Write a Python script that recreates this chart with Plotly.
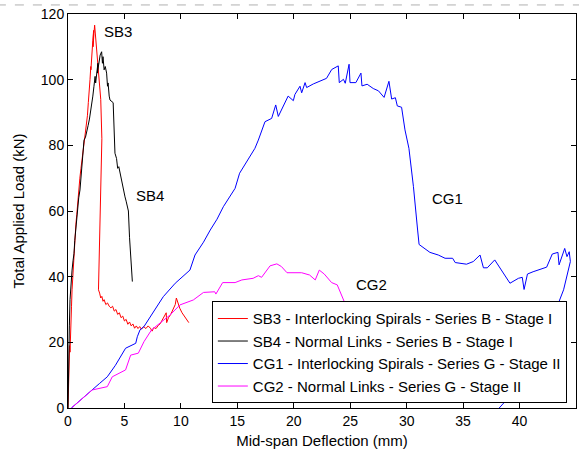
import plotly.graph_objects as go

# ---- data (mm, kN) ----
sb3_x = [0, 0.04, 0.07, 0.1, 0.14, 0.18, 0.22, 0.27, 0.31, 0.36, 0.42, 0.48, 0.55, 0.62, 0.7, 0.78,
         0.86, 0.95, 1.05, 1.15, 1.25, 1.35, 1.45, 1.55, 1.65, 1.72, 1.8, 1.88, 1.95, 2.02, 2.08,
         2.03, 2.12, 2.2, 2.27, 2.22, 2.3, 2.36, 2.6, 2.9, 3.0, 2.85, 2.66,
         2.7, 2.8, 2.9, 3.0, 3.1, 3.2, 3.35, 3.5, 3.65, 3.8, 3.95, 4.1, 4.25, 4.4, 4.55, 4.7, 4.85,
         5.0, 5.15, 5.3, 5.45, 5.6, 5.75, 5.9, 6.05, 6.2, 6.35, 6.5, 6.7, 6.9, 7.1, 7.3, 7.45, 7.6,
         7.8, 8.0, 8.15, 8.3, 8.45, 8.6, 8.7, 8.74, 8.9, 9.1, 9.3, 9.5, 9.6, 9.7, 9.8, 9.9, 10.1,
         10.3, 10.5, 10.7]
sb3_y = [0, 6, 13, 10, 19, 17, 25, 23, 31, 36, 40, 43, 47, 51, 56, 59,
         63, 67, 70, 73, 76, 78, 81, 83, 86, 89, 93, 96, 100, 104, 108,
         103, 109, 112, 115, 110, 114, 116.6, 106, 94, 82, 63, 38,
         36, 35, 33.5, 34, 32.5, 33, 31.5, 32, 31, 30.5, 31, 29.5, 30, 28.5, 29, 27.5, 28,
         26.5, 27, 25.5, 26.2, 25, 25.6, 24.3, 25, 24.2, 24.8, 24, 24.8, 24.2, 25, 24.3, 23.4, 24.5,
         24.2, 25.2, 25.6, 26.5, 27.5, 28.3, 29, 26, 27.5, 28.5, 30, 31.5, 33.5, 32.5, 31, 30.4, 29,
         28, 27, 26]

sb4_x = [0, 0.03, 0.08, 0.12, 0.18, 0.24, 0.29, 0.36, 0.45, 0.53, 0.6, 0.7, 0.83, 0.95, 1.06, 1.15,
         1.21, 1.3, 1.42, 1.55, 1.65, 1.78, 1.9, 2.0, 2.1, 2.2, 2.3, 2.4, 2.45, 2.55, 2.65, 2.6,
         2.75, 2.85, 2.98, 3.05, 3.1, 3.2, 3.3, 3.42, 3.5, 3.55, 3.65, 3.72, 4.0, 4.05, 4.1, 4.16,
         4.3, 4.4, 4.5, 4.6, 4.75, 4.85, 4.95, 5.05, 5.15, 5.25, 5.35, 5.45, 5.55, 5.7]
sb4_y = [0, 9, 18, 25, 33, 37, 39, 42, 45, 47, 51, 55, 60.3, 64, 66.4, 70,
         73.5, 77, 81.6, 82.5, 83.7, 86, 88, 90, 91.8, 95, 98, 101, 99, 103, 105, 102,
         106, 107.5, 108.5, 105, 107, 103, 104, 102, 98, 99, 95, 93.8, 93, 88, 82, 77.6,
         76, 73, 73.5, 71.6, 69, 68, 66, 64.3, 63, 61.3, 60, 52, 45, 38.5]

cg1_x = [0.3, 1.2, 2.15, 2.8, 3.48, 4.2, 5.1, 6.0, 6.14, 6.38, 6.73, 7.5, 8.44, 9.5, 10.8, 11.25,
         12.0, 12.6, 13.2, 13.76, 14.35, 14.8, 15.2, 15.9, 16.56, 16.86, 17.45, 18.04, 18.4, 18.63,
         19.5, 19.96, 20.1, 20.55, 20.7, 21.0, 21.14, 21.73, 22.9, 23.36, 23.94, 24.03, 24.4, 24.56,
         24.9, 24.98, 25.5, 25.95, 26.04, 26.5, 27.04, 27.5, 28.0, 28.43, 28.67, 29.0, 29.17, 29.55,
         29.85, 30.2, 30.6, 30.97, 31.1, 32.06, 32.8, 33.4, 34.07, 34.3, 35.3, 35.9, 36.5, 36.8,
         37.14, 37.8, 39.15, 39.9, 40.24, 40.4, 40.7, 41.2, 42.4, 42.9, 43.4, 43.5, 44.0, 44.2,
         44.4, 44.5, 43.9, 43.0, 38.7, 37.8]
cg1_y = [0, 2.8, 5.5, 7.5, 9.5, 13, 18.2, 19.7, 21.7, 23.8, 24.8, 29, 33.9, 38, 42, 46.6,
         50.5, 54.2, 57.5, 61.3, 64.4, 66.9, 71.5, 75.5, 79.1, 81.6, 87.2, 88.2, 92.3, 88.8,
         95, 93.6, 95.5, 98, 96, 99.1, 97.6, 98.7, 100.4, 103.1, 104.2, 99.1, 100.1, 98.9,
         104.7, 99.1, 99.1, 102, 98.1, 98.6, 97.3, 96.6, 94.6, 99.5, 94.1, 94.5, 92, 91.6,
         84.7, 79.1, 67.4, 54.2, 49.8, 47.4, 46.6, 45.6, 45.6, 44.3, 43.8, 44.6, 46.6, 42.7,
         42.7, 45.1, 38, 39.5, 39.8, 36.1, 40.8, 41.5, 42.9, 46.9, 47.4, 43.6, 48.6, 46.1,
         47.6, 44.6, 36, 28, 1.9, -1.5]

cg2_x = [0.3, 1.2, 2.15, 3.48, 3.92, 5.1, 5.55, 6.23, 6.73, 7.4, 8.2, 9.03, 9.92, 11.1, 12.0, 13.0,
         13.1, 13.7, 14.8, 15.4, 16.4, 16.86, 17.15, 17.9, 18.5, 18.9, 19.4, 20.7, 21.4, 21.9,
         22.26, 22.7, 23.35, 23.85, 24.47, 25.57, 26.16, 26.9, 27.28, 27.55]
cg2_y = [0, 2.8, 5.5, 6.5, 9.5, 11.6, 16.1, 16.7, 20.2, 23.8, 26, 28.3, 31.4, 32.9, 35.2, 35.4,
         34.7, 38.2, 38.2, 39, 39.5, 40.3, 39.8, 43.3, 43.9, 43.1, 41.2, 41.2, 40.5, 39,
         42, 40.8, 38.2, 37.5, 32.4, 31.6, 31.6, 32.2, 30.9, 29.3]

names = ["SB3 - Interlocking Spirals - Series B - Stage I",
         "SB4 - Normal Links - Series B - Stage I",
         "CG1 - Interlocking Spirals - Series G - Stage II",
         "CG2 - Normal Links - Series G - Stage II"]
colors = ["#ff0000", "#000000", "#0000ff", "#ff00ff"]

label_text = ["SB3", "SB4", "CG1", "CG2"]
label_x = [4.4, 7.3, 33.6, 26.9]
label_y = [114.8, 64.6, 63.7, 37.5]

x_title = "Mid-span Deflection (mm)"
y_title = "Total Applied Load (kN)"

FONT = "Liberation Sans, Arial, sans-serif"

fig = go.Figure()
for xs, ys, nm, c in zip([sb3_x, sb4_x, cg1_x, cg2_x], [sb3_y, sb4_y, cg1_y, cg2_y], names, colors):
    fig.add_trace(go.Scatter(x=xs, y=ys, mode="lines", name=nm,
                             line=dict(color=c, width=1)))

for t, lx, ly in zip(label_text, label_x, label_y):
    fig.add_annotation(x=lx, y=ly, text=t, showarrow=False,
                       font=dict(family=FONT, size=15, color="black"))

axis_common = dict(showline=True, linecolor="black", linewidth=1, mirror="ticks",
                   ticks="inside", ticklen=5, tickcolor="black", showgrid=False,
                   zeroline=False, tickfont=dict(family=FONT, size=14, color="black"))

fig.update_layout(
    width=579, height=450,
    margin=dict(l=68, r=3, t=14, b=42),
    paper_bgcolor="white", plot_bgcolor="white",
    font=dict(family=FONT, size=15, color="black"),
    xaxis=dict(range=[0, 45], dtick=5, tick0=0,
               title=dict(text=x_title, font=dict(family=FONT, size=15), standoff=7),
               **axis_common),
    yaxis=dict(range=[0, 120], dtick=20, tick0=0,
               title=dict(text=y_title, font=dict(family=FONT, size=15), standoff=12),
               **axis_common),
    legend=dict(x=0.982, y=0.012, xanchor="right", yanchor="bottom",
                bgcolor="white", bordercolor="black", borderwidth=1,
                font=dict(family=FONT, size=15), tracegroupgap=0, itemwidth=30,
                entrywidth=330, entrywidthmode="pixels"),
    showlegend=True,
)

fig.add_shape(type="line", xref="paper", yref="paper", x0=-0.14, x1=1.01, y0=1.023, y1=1.023,
              line=dict(color="#b0b0b0", width=1, dash="dash"))

fig.write_html("out.html")
